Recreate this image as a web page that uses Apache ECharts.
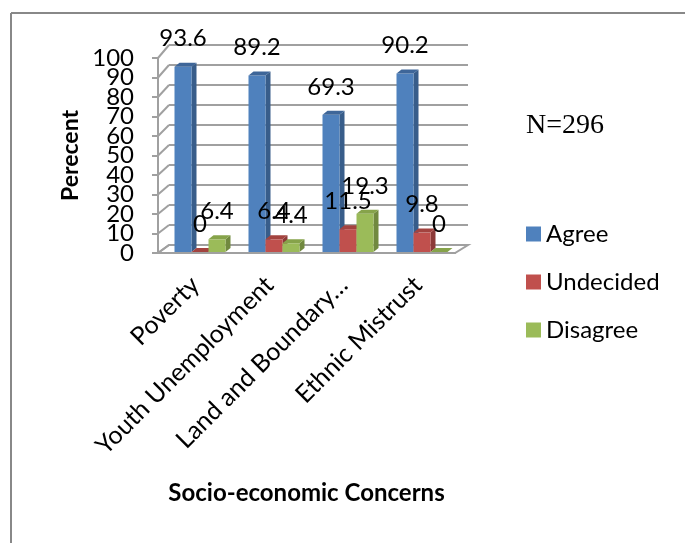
<!DOCTYPE html>
<html>
<head>
<meta charset="utf-8">
<script src="https://cdn.jsdelivr.net/npm/echarts@6/dist/echarts.min.js"></script>
<style>
  html, body { margin: 0; padding: 0; background: #fff; }
  #container { width: 685px; height: 543px; }
</style>
</head>
<body>
<div id="container"></div>
<script>
  var categories = ['Poverty', 'Youth Unemployment', 'Land and Boundary…', 'Ethnic Mistrust'];
  var agree = [93.6, 89.2, 69.3, 90.2];
  var undecided = [0, 6.4, 11.5, 9.8];
  var disagree = [6.4, 4.4, 19.3, 0];
  var seriesNames = ['Agree', 'Undecided', 'Disagree'];
  var yTicks = [0, 10, 20, 30, 40, 50, 60, 70, 80, 90, 100];

  var frontColors = ['#4F81BD', '#C0504D', '#9BBB59'];
  var sideColors = ['#385D8A', '#8C3A38', '#71893F'];
  var topColors = ['#3E6699', '#A3433F', '#86A34A'];
  var gridColor = '#A0A0A0';
  var font = 'Lato';

  var dom = document.getElementById('container');
  var myChart = echarts.init(dom);

  var barW = 17, depthX = 5, depthY = 4;

  // one 3d-looking bar per data item
  function barRenderer(k) {
    return function (params, api) {
      var i = api.value(0), v = api.value(1);
      var top = api.coord([i, v]);
      var base = api.coord([i, 0]);
      var x0 = top[0] + (k - 1.5) * barW;
      var x1 = x0 + barW;
      return {
        type: 'group',
        children: [
          {
            type: 'polygon',
            shape: { points: [[x1, top[1]], [x1 + depthX, top[1] - depthY], [x1 + depthX, base[1] - depthY], [x1, base[1]]] },
            style: { fill: sideColors[k] }
          },
          {
            type: 'rect',
            shape: { x: x0, y: top[1], width: barW, height: base[1] - top[1] },
            style: { fill: frontColors[k] }
          },
          {
            type: 'polygon',
            shape: { points: [[x0, top[1]], [x0 + depthX, top[1] - depthY], [x1 + depthX, top[1] - depthY], [x1, top[1]]] },
            style: { fill: topColors[k] }
          },
          {
            type: 'text',
            z2: 10,
            style: {
              text: String(v), x: (x0 + x1) / 2, y: top[1] - 16,
              font: '24px ' + font, fill: '#000',
              textAlign: 'center', textVerticalAlign: 'bottom'
            }
          }
        ]
      };
    };
  }

  function toItems(arr) {
    return arr.map(function (v, i) { return [i, v]; });
  }

  var allValues = [agree, undecided, disagree];

  // y labels are split over two stacked axes so none gets hidden for overlap
  var yLabelStyle = { margin: 24, fontFamily: font, fontSize: 24, color: '#000' };

  option = {
    animation: false,
    legend: {
      orient: 'vertical',
      left: 521,
      top: 215,
      itemWidth: 15,
      itemHeight: 15,
      itemGap: 20,
      icon: 'rect',
      data: seriesNames,
      textStyle: { fontFamily: font, fontSize: 24, color: '#000', lineHeight: 28 }
    },
    grid: [
      { left: 158, top: 58, width: 297, height: 195 },   // front plane
      { left: 169, top: 45, width: 299, height: 200 },   // back wall
      { left: 163, top: 54, width: 296, height: 198 }    // bars
    ],
    xAxis: [
      {
        gridIndex: 0,
        type: 'category',
        data: categories,
        name: 'Socio-economic Concerns',
        nameLocation: 'middle',
        nameGap: 228,
        nameTextStyle: { fontFamily: font, fontSize: 24, fontWeight: 'bold', color: '#000' },
        axisLine: { show: true, lineStyle: { color: gridColor, width: 2 } },
        axisTick: { show: false },
        axisLabel: { rotate: 45, interval: 0, margin: 28, fontFamily: font, fontSize: 25, color: '#000' }
      },
      { gridIndex: 1, type: 'category', data: categories, show: false },
      { gridIndex: 2, type: 'category', data: categories, show: false }
    ],
    yAxis: [
      {
        gridIndex: 0,
        type: 'value',
        min: 0, max: 100, interval: 10,
        name: 'Perecent',
        nameLocation: 'middle',
        nameGap: 76,
        nameTextStyle: { fontFamily: font, fontSize: 23, fontWeight: 'bold', color: '#000' },
        axisLine: { show: true, lineStyle: { color: gridColor, width: 2 } },
        axisTick: { show: true, length: 6, lineStyle: { color: gridColor, width: 2 } },
        axisLabel: Object.assign({
          showMinLabel: true, showMaxLabel: true,
          formatter: function (v) { return v % 20 === 0 ? String(v) : ''; }
        }, yLabelStyle),
        splitLine: { show: false }
      },
      {
        gridIndex: 1,
        type: 'value',
        min: 0, max: 100, interval: 10,
        axisLine: { show: false },
        axisTick: { show: false },
        axisLabel: { show: false },
        splitLine: { show: true, lineStyle: { color: gridColor, width: 2 } }
      },
      { gridIndex: 2, type: 'value', min: 0, max: 100, show: false },
      {
        gridIndex: 0,
        type: 'value',
        position: 'left',
        offset: 0,
        min: 0, max: 100, interval: 10,
        axisLine: { show: false },
        axisTick: { show: false },
        splitLine: { show: false },
        axisLabel: Object.assign({
          formatter: function (v) { return v % 20 === 10 ? String(v) : ''; }
        }, yLabelStyle)
      }
    ],
    graphic: [
      { id: 'borderLeft', type: 'line', shape: { x1: 11, y1: 13, x2: 11, y2: 543 }, style: { stroke: '#888', lineWidth: 2 } },
      { id: 'borderTop', type: 'line', shape: { x1: 11, y1: 13, x2: 685, y2: 13 }, style: { stroke: '#888', lineWidth: 2 } },
      { id: 'nText', type: 'text', left: 526, top: 112, style: { text: 'N=296', font: '28px "Liberation Serif"', fill: '#000' } }
    ],
    series: seriesNames.map(function (name, k) {
      return {
        name: name,
        type: 'custom',
        xAxisIndex: 2,
        yAxisIndex: 2,
        itemStyle: { color: frontColors[k] },
        renderItem: barRenderer(k),
        encode: { x: 0, y: 1 },
        data: toItems(allValues[k])
      };
    })
  };

  if (option && typeof option === "object") {
    myChart.setOption(option, true);
  }

  // side wall and floor, joining the front plane to the back wall
  function edge(g, v, right) {
    var last = categories.length - 1;
    var p0 = myChart.convertToPixel({ gridIndex: g }, [0, v]);
    var p1 = myChart.convertToPixel({ gridIndex: g }, [1, v]);
    var half = (p1[0] - p0[0]) / 2;
    if (right) {
      var pl = myChart.convertToPixel({ gridIndex: g }, [last, v]);
      return [pl[0] + half, pl[1]];
    }
    return [p0[0] - half, p0[1]];
  }

  var extra = yTicks.map(function (v) {
    var a = edge(0, v), b = edge(1, v);
    return { id: 'wall' + v, type: 'line', shape: { x1: a[0], y1: a[1], x2: b[0], y2: b[1] }, style: { stroke: gridColor, lineWidth: 2 } };
  });
  var fl = edge(0, 0), fr = edge(0, 0, true), br = edge(1, 0, true), bl = edge(1, 0);
  extra.push({
    id: 'floor', type: 'polygon', z: -1,
    shape: { points: [fl, fr, br, bl] },
    style: { fill: '#fff', stroke: gridColor, lineWidth: 2 }
  });
  myChart.setOption({ graphic: extra });
</script>
</body>
</html>
